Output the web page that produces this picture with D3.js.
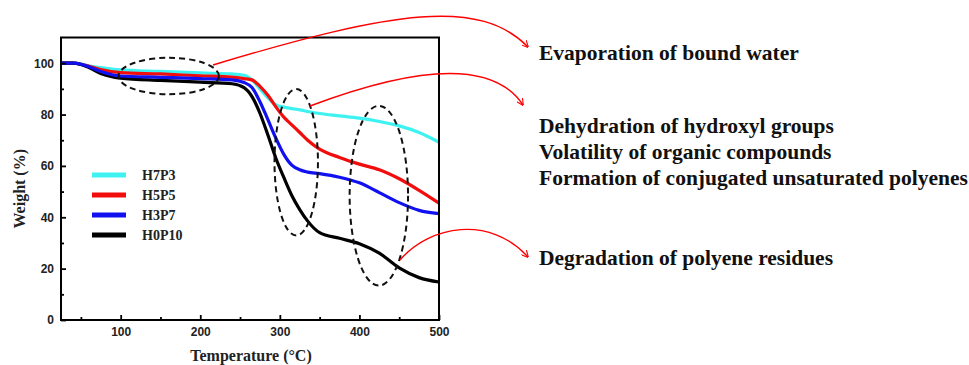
<!DOCTYPE html>
<html>
<head>
<meta charset="utf-8">
<script src="https://cdn.jsdelivr.net/npm/d3@7"></script>
<style>
  body { margin: 0; background: #fff; }
  svg { display: block; }
</style>
</head>
<body>
<div id="chart"></div>
<script>
// Temperature grid (°C) shared by all curves
const temps = [25, 40, 50, 60, 75, 100, 150, 200, 240, 255, 265, 275, 285, 295, 305, 315, 325, 335, 350, 375, 400, 425, 450, 475, 500];

// Weight (%)
const h7p3 = [100, 100, 99.7, 99, 98.3, 97.4, 96.8, 96.2, 95.8, 95.3, 93.5, 90, 86.5, 83.8, 82.9, 82.3, 81.8, 81.2, 80.4, 79.5, 78.6, 77.3, 75.6, 73, 69.2];
const h5p5 = [100, 100, 99.6, 98.8, 97.5, 96.3, 95.8, 95.1, 94.6, 94, 93.5, 91, 87.5, 83, 79, 76, 73, 70, 66.5, 63.3, 60.7, 58.5, 55, 50.5, 45.5];
const h3p7 = [100, 100, 99.6, 98.6, 96.8, 95, 94.5, 94, 93.5, 92.5, 90.5, 85, 78, 70.8, 64.5, 60.3, 58.5, 57.6, 57, 55.6, 53.4, 49.6, 45.7, 42.7, 41.4];
const h0p10 = [100, 100, 99.5, 98.3, 96, 94.2, 93.3, 92.6, 92, 90.5, 87, 80.5, 72, 63, 55.5, 48.5, 43, 38.5, 34, 31.8, 29.7, 26, 20.3, 16.5, 14.8];

const seriesNames = ['H7P3', 'H5P5', 'H3P7', 'H0P10'];
const seriesColors = ['#3ff2f2', '#f20d0d', '#1010f0', '#000000'];
const seriesValues = [h7p3, h5p5, h3p7, h0p10];

const xMajor = [100, 200, 300, 400, 500];
const xMinor = [50, 150, 250, 350, 450];
const yMajor = [0, 20, 40, 60, 80, 100];
const yMinor = [10, 30, 50, 70, 90];

// highlighted regions: centre temperature / weight and half sizes in data units
const regions = [
  { t: 160.4, w: 95, rt: 63, rw: 7.1 },
  { t: 320.6, w: 61.4, rt: 27.3, rw: 28.5 },
  { t: 424.4, w: 48.4, rt: 36.7, rw: 35 }
];

const notes = [
  { lines: ['Evaporation of bound water'], y: 60 },
  { lines: ['Dehydration of hydroxyl groups', 'Volatility of organic compounds', 'Formation of conjugated unsaturated polyenes'], y: 133 },
  { lines: ['Degradation of polyene residues'], y: 265 }
];

const width = 969, height = 365;
const margin = { top: 37.5, right: 530, bottom: 45, left: 61 };
const plotW = width - margin.left - margin.right;   // 378
const plotH = height - margin.top - margin.bottom;  // 282.5

const svg = d3.select('#chart').append('svg')
  .attr('width', width)
  .attr('height', height);

const g = svg.append('g')
  .attr('transform', `translate(${margin.left},${margin.top})`);

const x = d3.scaleLinear().domain([25, 500]).range([0, plotW]);
const y = d3.scaleLinear().domain([0, 110]).range([plotH, 0]);

// curves
const line = d3.line()
  .x(d => x(d[0]))
  .y(d => y(d[1]))
  .curve(d3.curveMonotoneX);

const drawOrder = [0, 1, 3, 2];
drawOrder.forEach(i => {
  g.append('path')
    .datum(temps.map((t, j) => [t, seriesValues[i][j]]))
    .attr('fill', 'none')
    .attr('stroke', seriesColors[i])
    .attr('stroke-width', 3.2)
    .attr('stroke-linejoin', 'round')
    .attr('d', line);
});

// axes (ticks point inwards)
function styleAxis(sel) {
  sel.select('.domain').remove();
  sel.selectAll('line').attr('stroke', '#000').attr('stroke-width', 1.8);
  sel.selectAll('text')
    .attr('font-family', '"Liberation Sans", Arial, sans-serif')
    .attr('font-weight', 'bold')
    .attr('font-size', 12)
    .attr('fill', '#222');
}

g.append('g')
  .attr('transform', `translate(0,${plotH})`)
  .call(d3.axisBottom(x).tickValues(xMajor).tickSize(-5).tickPadding(7))
  .call(styleAxis);
g.append('g')
  .attr('transform', `translate(0,${plotH})`)
  .call(d3.axisBottom(x).tickValues(xMinor).tickSize(-3).tickFormat(''))
  .call(styleAxis);
g.append('g')
  .call(d3.axisLeft(y).tickValues(yMajor).tickSize(-5).tickPadding(7))
  .call(styleAxis);
g.append('g')
  .call(d3.axisLeft(y).tickValues(yMinor).tickSize(-3).tickFormat(''))
  .call(styleAxis);

// frame
g.append('rect')
  .attr('width', plotW)
  .attr('height', plotH)
  .attr('fill', 'none')
  .attr('stroke', '#000')
  .attr('stroke-width', 2);

// axis titles
const serif = '"Liberation Serif", "Times New Roman", serif';
g.append('text')
  .attr('x', plotW / 2 + 1)
  .attr('y', plotH + 41)
  .attr('text-anchor', 'middle')
  .attr('font-family', serif)
  .attr('font-weight', 'bold')
  .attr('font-size', 16)
  .attr('fill', '#222')
  .text('Temperature (°C)');

g.append('text')
  .attr('transform', `translate(${-36},${plotH / 2 + 10}) rotate(-90)`)
  .attr('text-anchor', 'middle')
  .attr('font-family', serif)
  .attr('font-weight', 'bold')
  .attr('font-size', 16)
  .attr('fill', '#222')
  .text('Weight (%)');

// legend
const legend = g.append('g').attr('transform', 'translate(31,137.5)');
seriesNames.forEach((name, i) => {
  const row = legend.append('g').attr('transform', `translate(0,${i * 20})`);
  row.append('line')
    .attr('x1', 0).attr('x2', 34)
    .attr('stroke', seriesColors[i])
    .attr('stroke-width', 5);
  row.append('text')
    .attr('x', 50)
    .attr('dy', '0.35em')
    .attr('font-family', serif)
    .attr('font-weight', 'bold')
    .attr('font-size', 14)
    .attr('fill', '#222')
    .text(name);
});

// dashed ellipses
g.selectAll('ellipse.region')
  .data(regions)
  .enter()
  .append('ellipse')
  .attr('class', 'region')
  .attr('cx', d => x(d.t))
  .attr('cy', d => y(d.w))
  .attr('rx', d => x(d.t + d.rt) - x(d.t))
  .attr('ry', d => y(d.w - d.rw) - y(d.w))
  .attr('fill', 'none')
  .attr('stroke', '#111')
  .attr('stroke-width', 2)
  .attr('stroke-dasharray', '6,4');

// red arrows
svg.append('defs').append('marker')
  .attr('id', 'head')
  .attr('viewBox', '0 0 10 10')
  .attr('refX', 9).attr('refY', 5)
  .attr('markerWidth', 7).attr('markerHeight', 7)
  .attr('markerUnits', 'userSpaceOnUse')
  .attr('orient', 'auto')
  .append('path')
  .attr('d', 'M0,0 L10,5 L0,10')
  .attr('fill', 'none')
  .attr('stroke', '#f00')
  .attr('stroke-width', 1.6);

const arrows = [
  [[213, 65], [395, 10], [480, -2], [528, 47]],
  [[310, 106], [400, 72], [490, 55], [523, 105]],
  [[400, 260], [430, 225], [490, 215], [528, 257]]
];
svg.selectAll('path.arrow')
  .data(arrows)
  .enter()
  .append('path')
  .attr('class', 'arrow')
  .attr('d', d => `M${d[0]}C${d[1]} ${d[2]} ${d[3]}`)
  .attr('fill', 'none')
  .attr('stroke', '#f00')
  .attr('stroke-width', 1.4)
  .attr('marker-end', 'url(#head)');

// notes on the right
notes.forEach(n => {
  const t = svg.append('text')
    .attr('font-family', serif)
    .attr('font-weight', 'bold')
    .attr('font-size', 21.5)
    .attr('fill', '#111');
  n.lines.forEach((s, i) => {
    t.append('tspan')
      .attr('x', 539)
      .attr('y', n.y + i * 26)
      .text(s);
  });
});
</script>
</body>
</html>
